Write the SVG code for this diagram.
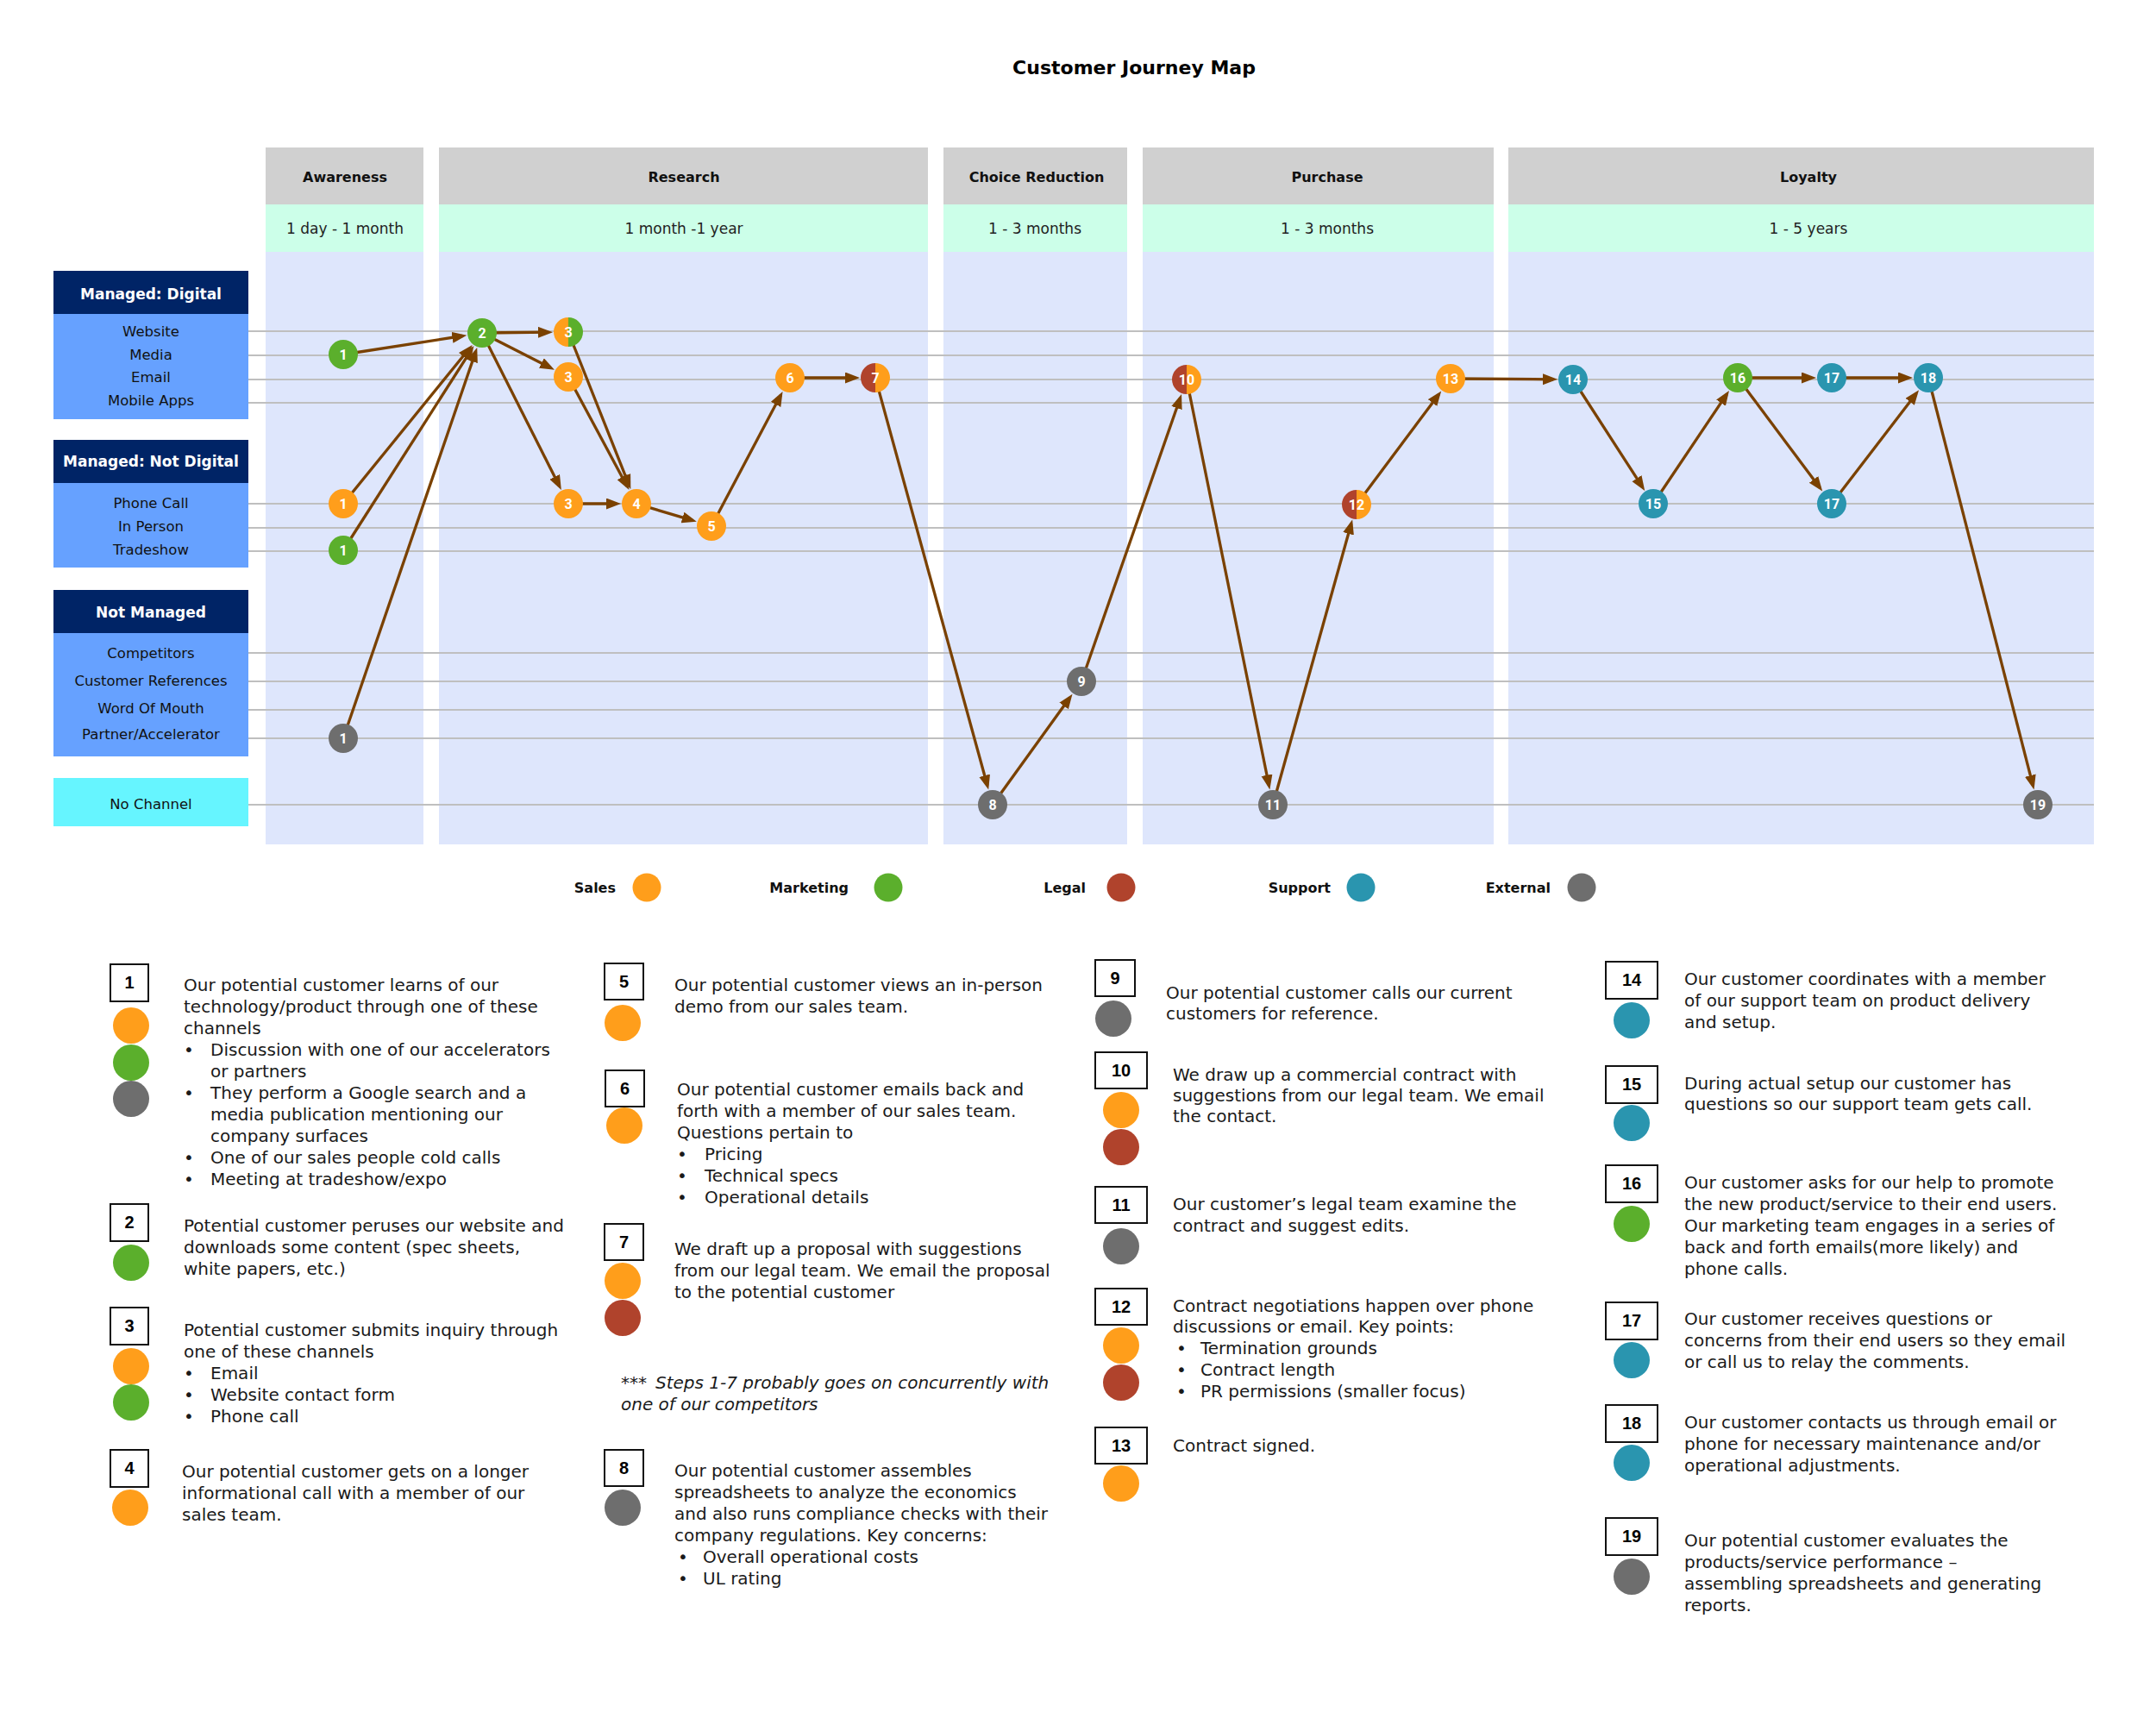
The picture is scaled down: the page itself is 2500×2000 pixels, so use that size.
<svg xmlns="http://www.w3.org/2000/svg" width="2500" height="2000" viewBox="0 0 2500 2000">
<style>
text{font-family:'DejaVu Sans',sans-serif}
.title{font-size:22px;font-weight:bold;text-anchor:middle;fill:#000}
.ph{font-size:16px;font-weight:bold;text-anchor:middle;fill:#111}
.dur{font-size:17px;text-anchor:middle;fill:#222}
.hdr{font-size:17px;font-weight:bold;text-anchor:middle;fill:#fff}
.lbl{font-size:16.5px;text-anchor:middle;fill:#111}
.row{stroke:#bfbfbf;stroke-width:2}
.conn line{stroke:#7A4100;stroke-width:3.3;marker-end:url(#ah)}
.num{font-family:Roboto,'DejaVu Sans',sans-serif;font-weight:bold;font-size:16px;fill:#fff;text-anchor:middle}
.leg{font-size:16px;font-weight:bold;text-anchor:end;fill:#111}
.box{fill:#fff;stroke:#111;stroke-width:2}
.bnum{font-family:'Liberation Sans',sans-serif;font-weight:bold;font-size:20px;text-anchor:middle;fill:#000}
.note{font-size:20px;fill:#1a1a1a}
.it{font-style:italic}
.s{fill:#FF9E1B}.m{fill:#5BAF2C}.l{fill:#B0432C}.p{fill:#2A95AF}.x{fill:#6E6E6E}
.hd{fill:#D0D0D0}.mint{fill:#CCFFE9}.col{fill:#DEE6FC}
.navy{fill:#002466}.lb{fill:#66A1FF}.cy{fill:#66F5FF}
</style>
<defs>
<marker id="ah" markerUnits="userSpaceOnUse" markerWidth="18" markerHeight="14" refX="12" refY="6.5" orient="auto"><path d="M0,0 L17,6.5 L0,13 z" fill="#7A4100"/></marker>
</defs>
<rect width="2500" height="2000" fill="#fff"/>
<text class="title" x="1315" y="86">Customer Journey Map</text>

<g id="phases">
<g id="ph-awareness"><rect class="hd" x="308" y="171" width="183" height="66"/><rect class="mint" x="308" y="237" width="183" height="55"/><rect class="col" x="308" y="292" width="183" height="687"/><text class="ph" x="400" y="211">Awareness</text><text class="dur" x="400" y="271">1 day - 1 month</text></g>
<g id="ph-research"><rect class="hd" x="509" y="171" width="567" height="66"/><rect class="mint" x="509" y="237" width="567" height="55"/><rect class="col" x="509" y="292" width="567" height="687"/><text class="ph" x="793" y="211">Research</text><text class="dur" x="793" y="271">1 month -1 year</text></g>
<g id="ph-choice"><rect class="hd" x="1094" y="171" width="213" height="66"/><rect class="mint" x="1094" y="237" width="213" height="55"/><rect class="col" x="1094" y="292" width="213" height="687"/><text class="ph" x="1202" y="211">Choice Reduction</text><text class="dur" x="1200" y="271">1 - 3 months</text></g>
<g id="ph-purchase"><rect class="hd" x="1325" y="171" width="407" height="66"/><rect class="mint" x="1325" y="237" width="407" height="55"/><rect class="col" x="1325" y="292" width="407" height="687"/><text class="ph" x="1539" y="211">Purchase</text><text class="dur" x="1539" y="271">1 - 3 months</text></g>
<g id="ph-loyalty"><rect class="hd" x="1749" y="171" width="679" height="66"/><rect class="mint" x="1749" y="237" width="679" height="55"/><rect class="col" x="1749" y="292" width="679" height="687"/><text class="ph" x="2097" y="211">Loyalty</text><text class="dur" x="2097" y="271">1 - 5 years</text></g>
</g>

<g id="channels">
<g id="ch-digital"><rect class="navy" x="62" y="314" width="226" height="50"/><rect class="lb" x="62" y="364" width="226" height="122"/><text class="hdr" x="175" y="347">Managed: Digital</text>
<text class="lbl" x="175" y="390">Website</text><text class="lbl" x="175" y="417">Media</text><text class="lbl" x="175" y="443">Email</text><text class="lbl" x="175" y="470">Mobile Apps</text></g>
<g id="ch-notdigital"><rect class="navy" x="62" y="510" width="226" height="50"/><rect class="lb" x="62" y="560" width="226" height="98"/><text class="hdr" x="175" y="541">Managed: Not Digital</text>
<text class="lbl" x="175" y="589">Phone Call</text><text class="lbl" x="175" y="616">In Person</text><text class="lbl" x="175" y="643">Tradeshow</text></g>
<g id="ch-notmanaged"><rect class="navy" x="62" y="684" width="226" height="50"/><rect class="lb" x="62" y="734" width="226" height="143"/><text class="hdr" x="175" y="716">Not Managed</text>
<text class="lbl" x="175" y="763">Competitors</text><text class="lbl" x="175" y="795">Customer References</text><text class="lbl" x="175" y="827">Word Of Mouth</text><text class="lbl" x="175" y="857">Partner/Accelerator</text></g>
<g id="ch-none"><rect class="cy" x="62" y="902" width="226" height="56"/><text class="lbl" x="175" y="938">No Channel</text></g>
</g>

<g id="rows">
<line class="row" x1="288" y1="384" x2="2428" y2="384"/>
<line class="row" x1="288" y1="412" x2="2428" y2="412"/>
<line class="row" x1="288" y1="440" x2="2428" y2="440"/>
<line class="row" x1="288" y1="467" x2="2428" y2="467"/>
<line class="row" x1="288" y1="584" x2="2428" y2="584"/>
<line class="row" x1="288" y1="612" x2="2428" y2="612"/>
<line class="row" x1="288" y1="639" x2="2428" y2="639"/>
<line class="row" x1="288" y1="757" x2="2428" y2="757"/>
<line class="row" x1="288" y1="790" x2="2428" y2="790"/>
<line class="row" x1="288" y1="823" x2="2428" y2="823"/>
<line class="row" x1="288" y1="856" x2="2428" y2="856"/>
<line class="row" x1="288" y1="933" x2="2428" y2="933"/>
</g>

<g id="connectors" class="conn">
<line x1="398" y1="411" x2="536.3" y2="389.5"/>
<line x1="398" y1="584" x2="544.5" y2="403.8"/>
<line x1="398" y1="638" x2="546.7" y2="405.3"/>
<line x1="398" y1="856" x2="551.6" y2="407.7"/>
<line x1="559" y1="386" x2="636" y2="385.2"/>
<line x1="559" y1="386" x2="638.5" y2="426.5"/>
<line x1="559" y1="386" x2="648.6" y2="563.5"/>
<line x1="659" y1="385" x2="729.5" y2="562.6"/>
<line x1="659" y1="437" x2="727.1" y2="563.7"/>
<line x1="659" y1="584" x2="715" y2="584"/>
<line x1="738" y1="584" x2="803" y2="603.4"/>
<line x1="825" y1="610" x2="905.2" y2="458.3"/>
<line x1="916" y1="438" x2="992" y2="438"/>
<line x1="1015" y1="438" x2="1144.9" y2="910.8"/>
<line x1="1151" y1="933" x2="1240.6" y2="808.7"/>
<line x1="1254" y1="790" x2="1368.4" y2="461.7"/>
<line x1="1376" y1="440" x2="1471.4" y2="910.5"/>
<line x1="1476" y1="933" x2="1566.8" y2="607.2"/>
<line x1="1573" y1="585" x2="1668.2" y2="457.4"/>
<line x1="1682" y1="439" x2="1801" y2="439.8"/>
<line x1="1824" y1="440" x2="1904.5" y2="564.7"/>
<line x1="1917" y1="584" x2="2002.2" y2="457.1"/>
<line x1="2015" y1="438" x2="2101" y2="438"/>
<line x1="2124" y1="438" x2="2213" y2="438"/>
<line x1="2015" y1="438" x2="2110.2" y2="565.6"/>
<line x1="2124" y1="584" x2="2222" y2="456.3"/>
<line x1="2236" y1="438" x2="2357.3" y2="910.7"/>
</g>

<g id="nodes">
<g id="n1-media"><circle class="m" cx="398" cy="411" r="17"/><text class="num" x="398" y="417">1</text></g>
<g id="n1-phone"><circle class="s" cx="398" cy="584" r="17"/><text class="num" x="398" y="590">1</text></g>
<g id="n1-tradeshow"><circle class="m" cx="398" cy="638" r="17"/><text class="num" x="398" y="644">1</text></g>
<g id="n1-partner"><circle class="x" cx="398" cy="856" r="17"/><text class="num" x="398" y="862">1</text></g>
<g id="n2"><circle class="m" cx="559" cy="386" r="17"/><text class="num" x="559" y="392">2</text></g>
<g id="n3-website"><path class="s" d="M659,368 A17,17 0 0 0 659,402 Z"/><path class="m" d="M659,368 A17,17 0 0 1 659,402 Z"/><text class="num" x="659" y="391">3</text></g>
<g id="n3-email"><circle class="s" cx="659" cy="437" r="17"/><text class="num" x="659" y="443">3</text></g>
<g id="n3-phone"><circle class="s" cx="659" cy="584" r="17"/><text class="num" x="659" y="590">3</text></g>
<g id="n4"><circle class="s" cx="738" cy="584" r="17"/><text class="num" x="738" y="590">4</text></g>
<g id="n5"><circle class="s" cx="825" cy="610" r="17"/><text class="num" x="825" y="616">5</text></g>
<g id="n6"><circle class="s" cx="916" cy="438" r="17"/><text class="num" x="916" y="444">6</text></g>
<g id="n7"><path class="l" d="M1015,421 A17,17 0 0 0 1015,455 Z"/><path class="s" d="M1015,421 A17,17 0 0 1 1015,455 Z"/><text class="num" x="1015" y="444">7</text></g>
<g id="n8"><circle class="x" cx="1151" cy="933" r="17"/><text class="num" x="1151" y="939">8</text></g>
<g id="n9"><circle class="x" cx="1254" cy="790" r="17"/><text class="num" x="1254" y="796">9</text></g>
<g id="n10"><path class="l" d="M1376,423 A17,17 0 0 0 1376,457 Z"/><path class="s" d="M1376,423 A17,17 0 0 1 1376,457 Z"/><text class="num" x="1376" y="446">10</text></g>
<g id="n11"><circle class="x" cx="1476" cy="933" r="17"/><text class="num" x="1476" y="939">11</text></g>
<g id="n12"><path class="l" d="M1573,568 A17,17 0 0 0 1573,602 Z"/><path class="s" d="M1573,568 A17,17 0 0 1 1573,602 Z"/><text class="num" x="1573" y="591">12</text></g>
<g id="n13"><circle class="s" cx="1682" cy="439" r="17"/><text class="num" x="1682" y="445">13</text></g>
<g id="n14"><circle class="p" cx="1824" cy="440" r="17"/><text class="num" x="1824" y="446">14</text></g>
<g id="n15"><circle class="p" cx="1917" cy="584" r="17"/><text class="num" x="1917" y="590">15</text></g>
<g id="n16"><circle class="m" cx="2015" cy="438" r="17"/><text class="num" x="2015" y="444">16</text></g>
<g id="n17-email"><circle class="p" cx="2124" cy="438" r="17"/><text class="num" x="2124" y="444">17</text></g>
<g id="n18"><circle class="p" cx="2236" cy="438" r="17"/><text class="num" x="2236" y="444">18</text></g>
<g id="n17-phone"><circle class="p" cx="2124" cy="584" r="17"/><text class="num" x="2124" y="590">17</text></g>
<g id="n19"><circle class="x" cx="2363" cy="933" r="17"/><text class="num" x="2363" y="939">19</text></g>
</g>

<g id="legend">
<g id="leg-sales"><text class="leg" x="714" y="1035">Sales</text><circle class="s" cx="750" cy="1029" r="16.5"/></g>
<g id="leg-marketing"><text class="leg" x="984" y="1035">Marketing</text><circle class="m" cx="1030" cy="1029" r="16.5"/></g>
<g id="leg-legal"><text class="leg" x="1259" y="1035">Legal</text><circle class="l" cx="1300" cy="1029" r="16.5"/></g>
<g id="leg-support"><text class="leg" x="1543" y="1035">Support</text><circle class="p" cx="1578" cy="1029" r="16.5"/></g>
<g id="leg-external"><text class="leg" x="1798" y="1035">External</text><circle class="x" cx="1834" cy="1029" r="16.5"/></g>
</g>

<g id="notes">
<g id="note1"><rect class="box" x="128" y="1118" width="44" height="43"/><text class="bnum" x="150" y="1146">1</text>
<circle class="s" cx="152" cy="1189" r="21"/><circle class="m" cx="152" cy="1232" r="21"/><circle class="x" cx="152" cy="1274" r="21"/>
<text class="note"><tspan x="213" y="1149">Our potential customer learns of our</tspan><tspan x="213" y="1174">technology/product through one of these</tspan><tspan x="213" y="1199">channels</tspan>
<tspan x="213" y="1224">•</tspan><tspan x="244" y="1224">Discussion with one of our accelerators</tspan><tspan x="244" y="1249">or partners</tspan>
<tspan x="213" y="1274">•</tspan><tspan x="244" y="1274">They perform a Google search and a</tspan><tspan x="244" y="1299">media publication mentioning our</tspan><tspan x="244" y="1324">company surfaces</tspan>
<tspan x="213" y="1349">•</tspan><tspan x="244" y="1349">One of our sales people cold calls</tspan>
<tspan x="213" y="1374">•</tspan><tspan x="244" y="1374">Meeting at tradeshow/expo</tspan></text></g>

<g id="note2"><rect class="box" x="128" y="1396" width="44" height="43"/><text class="bnum" x="150" y="1424">2</text>
<circle class="m" cx="152" cy="1464" r="21"/>
<text class="note"><tspan x="213" y="1428">Potential customer peruses our website and</tspan><tspan x="213" y="1453">downloads some content (spec sheets,</tspan><tspan x="213" y="1478">white papers, etc.)</tspan></text></g>

<g id="note3"><rect class="box" x="128" y="1516" width="44" height="43"/><text class="bnum" x="150" y="1544">3</text>
<circle class="s" cx="152" cy="1584" r="21"/><circle class="m" cx="152" cy="1626" r="21"/>
<text class="note"><tspan x="213" y="1549">Potential customer submits inquiry through</tspan><tspan x="213" y="1574">one of these channels</tspan>
<tspan x="213" y="1599">•</tspan><tspan x="244" y="1599">Email</tspan>
<tspan x="213" y="1624">•</tspan><tspan x="244" y="1624">Website contact form</tspan>
<tspan x="213" y="1649">•</tspan><tspan x="244" y="1649">Phone call</tspan></text></g>

<g id="note4"><rect class="box" x="128" y="1681" width="44" height="43"/><text class="bnum" x="150" y="1709">4</text>
<circle class="s" cx="151" cy="1748" r="21"/>
<text class="note"><tspan x="211" y="1713">Our potential customer gets on a longer</tspan><tspan x="211" y="1738">informational call with a member of our</tspan><tspan x="211" y="1763">sales team.</tspan></text></g>

<g id="note5"><rect class="box" x="701" y="1117" width="45" height="42"/><text class="bnum" x="723.5" y="1145">5</text>
<circle class="s" cx="722" cy="1186" r="21"/>
<text class="note"><tspan x="782" y="1149">Our potential customer views an in-person</tspan><tspan x="782" y="1174">demo from our sales team.</tspan></text></g>

<g id="note6"><rect class="box" x="702" y="1241" width="45" height="42"/><text class="bnum" x="724.5" y="1269">6</text>
<circle class="s" cx="724" cy="1305" r="21"/>
<text class="note"><tspan x="785" y="1270">Our potential customer emails back and</tspan><tspan x="785" y="1295">forth with a member of our sales team.</tspan><tspan x="785" y="1320">Questions pertain to</tspan>
<tspan x="785" y="1345">•</tspan><tspan x="817" y="1345">Pricing</tspan>
<tspan x="785" y="1370">•</tspan><tspan x="817" y="1370">Technical specs</tspan>
<tspan x="785" y="1395">•</tspan><tspan x="817" y="1395">Operational details</tspan></text></g>

<g id="note7"><rect class="box" x="701" y="1419" width="45" height="42"/><text class="bnum" x="723.5" y="1447">7</text>
<circle class="s" cx="722" cy="1485" r="21"/><circle class="l" cx="722" cy="1528" r="21"/>
<text class="note"><tspan x="782" y="1455">We draft up a proposal with suggestions</tspan><tspan x="782" y="1480">from our legal team. We email the proposal</tspan><tspan x="782" y="1505">to the potential customer</tspan></text></g>

<g id="note-concurrent"><text class="note it"><tspan x="720" y="1610">***</tspan><tspan x="760" y="1610">Steps 1-7 probably goes on concurrently with</tspan><tspan x="720" y="1635">one of our competitors</tspan></text></g>

<g id="note8"><rect class="box" x="701" y="1681" width="45" height="42"/><text class="bnum" x="723.5" y="1709">8</text>
<circle class="x" cx="722" cy="1748" r="21"/>
<text class="note"><tspan x="782" y="1712">Our potential customer assembles</tspan><tspan x="782" y="1737">spreadsheets to analyze the economics</tspan><tspan x="782" y="1762">and also runs compliance checks with their</tspan><tspan x="782" y="1787">company regulations. Key concerns:</tspan>
<tspan x="786" y="1812">•</tspan><tspan x="815" y="1812">Overall operational costs</tspan>
<tspan x="786" y="1837">•</tspan><tspan x="815" y="1837">UL rating</tspan></text></g>

<g id="note9"><rect class="box" x="1270" y="1113" width="46" height="42"/><text class="bnum" x="1293" y="1141">9</text>
<circle class="x" cx="1291" cy="1181" r="21"/>
<text class="note"><tspan x="1352" y="1158">Our potential customer calls our current</tspan><tspan x="1352" y="1182">customers for reference.</tspan></text></g>

<g id="note10"><rect class="box" x="1270" y="1220" width="60" height="42"/><text class="bnum" x="1300" y="1248">10</text>
<circle class="s" cx="1300" cy="1287" r="21"/><circle class="l" cx="1300" cy="1330" r="21"/>
<text class="note"><tspan x="1360" y="1253">We draw up a commercial contract with</tspan><tspan x="1360" y="1277">suggestions from our legal team. We email</tspan><tspan x="1360" y="1301">the contact.</tspan></text></g>

<g id="note11"><rect class="box" x="1270" y="1376" width="60" height="42"/><text class="bnum" x="1300" y="1404">11</text>
<circle class="x" cx="1300" cy="1445" r="21"/>
<text class="note"><tspan x="1360" y="1403">Our customer’s legal team examine the</tspan><tspan x="1360" y="1428">contract and suggest edits.</tspan></text></g>

<g id="note12"><rect class="box" x="1270" y="1494" width="60" height="42"/><text class="bnum" x="1300" y="1522">12</text>
<circle class="s" cx="1300" cy="1560" r="21"/><circle class="l" cx="1300" cy="1603" r="21"/>
<text class="note"><tspan x="1360" y="1521">Contract negotiations happen over phone</tspan><tspan x="1360" y="1545">discussions or email. Key points:</tspan>
<tspan x="1364" y="1570">•</tspan><tspan x="1392" y="1570">Termination grounds</tspan>
<tspan x="1364" y="1595">•</tspan><tspan x="1392" y="1595">Contract length</tspan>
<tspan x="1364" y="1620">•</tspan><tspan x="1392" y="1620">PR permissions (smaller focus)</tspan></text></g>

<g id="note13"><rect class="box" x="1270" y="1655" width="60" height="42"/><text class="bnum" x="1300" y="1683">13</text>
<circle class="s" cx="1300" cy="1720" r="21"/>
<text class="note"><tspan x="1360" y="1683">Contract signed.</tspan></text></g>

<g id="note14"><rect class="box" x="1862" y="1115" width="60" height="43"/><text class="bnum" x="1892" y="1143">14</text>
<circle class="p" cx="1892" cy="1183" r="21"/>
<text class="note"><tspan x="1953" y="1142">Our customer coordinates with a member</tspan><tspan x="1953" y="1167">of our support team on product delivery</tspan><tspan x="1953" y="1192">and setup.</tspan></text></g>

<g id="note15"><rect class="box" x="1862" y="1236" width="60" height="43"/><text class="bnum" x="1892" y="1264">15</text>
<circle class="p" cx="1892" cy="1302" r="21"/>
<text class="note"><tspan x="1953" y="1263">During actual setup our customer has</tspan><tspan x="1953" y="1287">questions so our support team gets call.</tspan></text></g>

<g id="note16"><rect class="box" x="1862" y="1351" width="60" height="43"/><text class="bnum" x="1892" y="1379">16</text>
<circle class="m" cx="1892" cy="1419" r="21"/>
<text class="note"><tspan x="1953" y="1378">Our customer asks for our help to promote</tspan><tspan x="1953" y="1403">the new product/service to their end users.</tspan><tspan x="1953" y="1428">Our marketing team engages in a series of</tspan><tspan x="1953" y="1453">back and forth emails(more likely) and</tspan><tspan x="1953" y="1478">phone calls.</tspan></text></g>

<g id="note17"><rect class="box" x="1862" y="1510" width="60" height="43"/><text class="bnum" x="1892" y="1538">17</text>
<circle class="p" cx="1892" cy="1577" r="21"/>
<text class="note"><tspan x="1953" y="1536">Our customer receives questions or</tspan><tspan x="1953" y="1561">concerns from their end users so they email</tspan><tspan x="1953" y="1586">or call us to relay the comments.</tspan></text></g>

<g id="note18"><rect class="box" x="1862" y="1629" width="60" height="43"/><text class="bnum" x="1892" y="1657">18</text>
<circle class="p" cx="1892" cy="1696" r="21"/>
<text class="note"><tspan x="1953" y="1656">Our customer contacts us through email or</tspan><tspan x="1953" y="1681">phone for necessary maintenance and/or</tspan><tspan x="1953" y="1706">operational adjustments.</tspan></text></g>

<g id="note19"><rect class="box" x="1862" y="1760" width="60" height="43"/><text class="bnum" x="1892" y="1788">19</text>
<circle class="x" cx="1892" cy="1828" r="21"/>
<text class="note"><tspan x="1953" y="1793">Our potential customer evaluates the</tspan><tspan x="1953" y="1818">products/service performance –</tspan><tspan x="1953" y="1843">assembling spreadsheets and generating</tspan><tspan x="1953" y="1868">reports.</tspan></text></g>
</g>
</svg>
